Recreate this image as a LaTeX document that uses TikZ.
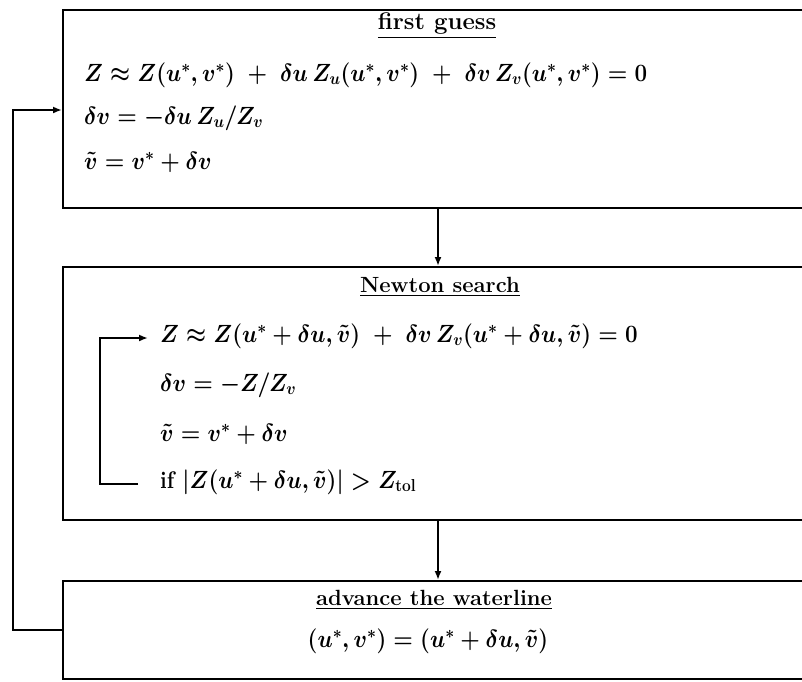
\documentclass[tikz,border=0pt]{standalone}
\usepackage{amsmath}
\usetikzlibrary{arrows.meta}
\newcommand{\narrow}[1]{\scalebox{0.9}[1]{#1}}
\begin{document}
\begin{tikzpicture}[x=1pt,y=-1pt,
  box/.style={draw, line width=2pt, rectangle, anchor=north west, minimum width=750pt, inner sep=0pt},
  txt/.style={anchor=west, inner sep=0pt, font=\fontsize{24}{28}\selectfont\bfseries\boldmath},
  ttl/.style={anchor=center, inner sep=0pt, font=\fontsize{22}{26}\selectfont\bfseries\boldmath},
  conn/.style={line width=2pt, -{Latex[length=9pt,width=7pt]}}]
\clip (0,0) rectangle (802,681);
% boxes
\node[box, minimum height=198pt] (b1) at (62,9) {};
\node[box, minimum height=253pt] (b2) at (62,266) {};
\node[box, minimum height=98pt] (b3) at (62,580) {};
% box 1 texts
\node[ttl, font=\fontsize{24}{28}\selectfont\bfseries] (t1) at (437,26) {\underline{first guess}};
\node[txt] (e11) at (84,75) {\narrow{$Z \approx Z(u^*,v^*) \;+\; \delta u\,Z_u(u^*,v^*) \;+\; \delta v\,Z_v(u^*,v^*) = 0$}};
\node[txt] (e12) at (84,118) {\narrow{$\delta v = -\delta u\,Z_u/Z_v$}};
\node[txt] (e13) at (84,162) {\narrow{$\tilde v = v^* + \delta v$}};
% box 2 texts
\node[ttl] (t2) at (440,287) {\underline{Newton search}};
\node[txt] (e21) at (160,336) {\narrow{$Z \approx Z(u^*+\delta u,\tilde v) \;+\; \delta v\,Z_v(u^*+\delta u,\tilde v) = 0$}};
\node[txt] (e22) at (160,385) {\narrow{$\delta v = -Z/Z_v$}};
\node[txt] (e23) at (160,434) {\narrow{$\tilde v = v^* + \delta v$}};
\node[txt] (e24) at (160,482) {\narrow{if $|Z(u^*+\delta u,\tilde v)| > Z_{\mathbf{tol}}$}};
% box 3 texts
\node[ttl] (t3) at (434,600) {\underline{advance the waterline}};
\node[txt, anchor=center] (e31) at (428,641) {\narrow{$(u^*,v^*) = (u^*+\delta u,\tilde v)$}};
% connectors
\draw[conn] (b1.south) -- (b2.north);
\draw[conn] (b2.south) -- (b3.north);
\draw[conn] (b3.west) -- ++(-49,0) |- ([yshift=-1pt]b1.west);
\coordinate (l4) at ([xshift=-22pt,yshift=-2pt]e24.west);
\coordinate (l1) at ([xshift=-12pt,yshift=-2pt]e21.west);
\draw[conn] (l4) -- ++(-38,0) |- (l1);
\end{tikzpicture}
\end{document}
